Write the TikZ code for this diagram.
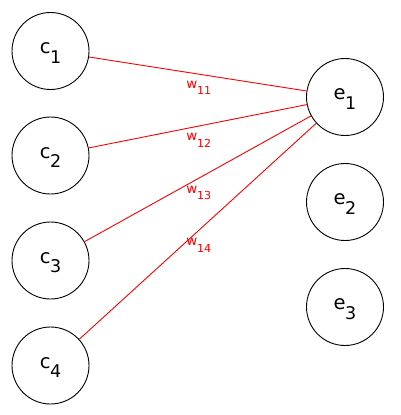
\documentclass[tikz,border=0pt]{standalone}
\usepackage{fontspec}
\setmainfont{DejaVu Sans}
\newcommand\csub[1]{\kern-0.5pt\raisebox{-9.3pt}{\fontsize{17.5}{20}\selectfont #1}\rule{0pt}{15pt}}
\newcommand\wsub[1]{\raisebox{-6.3pt}{\fontsize{11}{13}\selectfont #1}}
\begin{document}
\begin{tikzpicture}[x=1pt,y=-1pt,
  unit/.style={circle,draw=black,line width=0.9pt,minimum size=77pt,inner sep=0pt,
    font=\fontsize{19.5}{22}\selectfont},
  wire/.style={draw=red,line width=0.9pt},
  wlabel/.style={text=red,inner sep=0pt,yshift=-14pt,xshift=1pt,
    font=\fontsize{13.4}{15}\selectfont}]
\useasboundingbox (0,0) rectangle (400,415);
\node[unit] (c1) at (50.5,51) {c\csub{1}};
\node[unit] (c2) at (50.5,155.5) {c\csub{2}};
\node[unit] (c3) at (50.5,260.5) {c\csub{3}};
\node[unit] (c4) at (50.5,365.5) {c\csub{4}};
\node[unit] (e1) at (345,97) {e\csub{1}};
\node[unit] (e2) at (345,202) {e\csub{2}};
\node[unit] (e3) at (345,307) {e\csub{3}};
\draw[wire] (c1) -- (e1) node[midway,wlabel] {w\wsub{11}};
\draw[wire] (c2) -- (e1) node[midway,wlabel] {w\wsub{12}};
\draw[wire] (c3) -- (e1) node[midway,wlabel] {w\wsub{13}};
\draw[wire] (c4) -- (e1) node[midway,wlabel] {w\wsub{14}};
\end{tikzpicture}
\end{document}
